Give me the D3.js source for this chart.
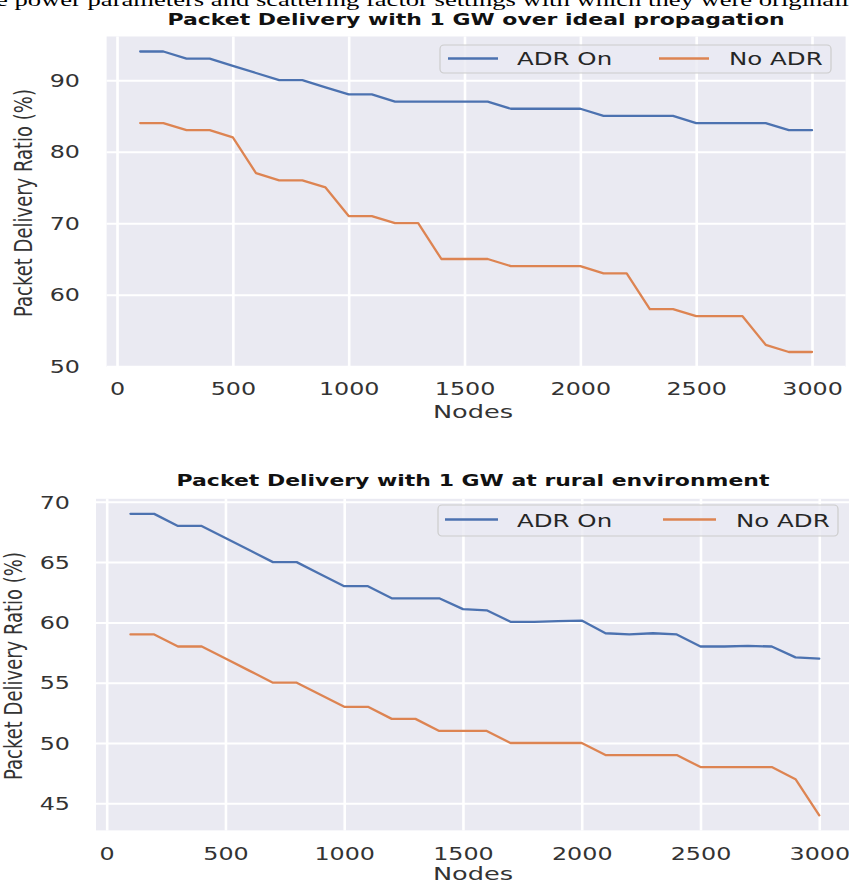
<!DOCTYPE html>
<html><head><meta charset="utf-8">
<script src="https://cdn.jsdelivr.net/npm/d3@7"></script>
<style>body{margin:0;background:#fff} svg{display:block}</style>
</head><body><svg id="c" width="849" height="883"></svg>
<script>
// ---------- data ----------
const nodes = [100,200,300,400,500,600,700,800,900,1000,1100,1200,1300,1400,1500,1600,1700,1800,1900,2000,2100,2200,2300,2400,2500,2600,2700,2800,2900,3000];
const idealAdrOn  = [94,94,93,93,92,91,90,90,89,88,88,87,87,87,87,87,86,86,86,86,85,85,85,85,84,84,84,84,83,83];
const idealNoAdr  = [84,84,83,83,82,77,76,76,75,71,71,70,70,65,65,65,64,64,64,64,63,63,58,58,57,57,57,53,52,52];
const ruralAdrOn  = [69,69,68,68,67,66,65,65,64,63,63,62,62,62,61.1,61,60.05,60.05,60.1,60.15,59.1,59.0,59.1,59.0,58.0,58.0,58.05,58.0,57.1,57.0];
const ruralNoAdr  = [59,59,58,58,57,56,55,55,54,53,53,52,52,51,51,51,50,50,50,50,49,49,49,49,48,48,48,48,47,44];
const xTicks = [0,500,1000,1500,2000,2500,3000];
const idealYTicks = [50,60,70,80,90];
const ruralYTicks = [45,50,55,60,65,70];
const seriesNames = ["ADR On","No ADR"];
const titles = ["Packet Delivery with 1 GW over ideal propagation","Packet Delivery with 1 GW at rural environment"];
const xLabel = "Nodes";
const yLabel = "Packet Delivery Ratio (%)";
const headerText = "e power parameters and scattering factor settings with which they were originally";

// ---------- style ----------
const colors = ["#4c72b0","#dd8452"];
const K = 1.4; // horizontal stretch of the source figure
const FONT = "DejaVu Sans";
const svg = d3.select("#c");

// header (body text of the page, partly above the crop)
svg.append("text").attr("transform",`translate(-4,5.5) scale(${K},1)`)
  .attr("font-family","Liberation Serif").attr("font-size",19).attr("fill","#000")
  .text(headerText);

function stretchedText(g, x, y, txt, opts){
  const t = g.append("text").attr("transform",`translate(${x},${y}) scale(${K},1)${opts.rotate?" rotate(-90)":""}`)
    .attr("font-family",FONT).attr("font-size",opts.size).attr("fill",opts.fill||"#262626")
    .attr("text-anchor",opts.anchor||"start").text(txt);
  if(opts.weight) t.attr("font-weight",opts.weight);
  return t;
}

function panel(cfg){
  const x = d3.scaleLinear().domain(cfg.xDomain).range(cfg.xRange);
  const y = d3.scaleLinear().domain(cfg.yDomain).range(cfg.yRange);
  const [x0,x1] = cfg.xRange, [yb,yt] = cfg.yRange;
  const g = svg.append("g");
  g.append("rect").attr("x",x0).attr("y",yt).attr("width",x1-x0).attr("height",yb-yt).attr("fill","#eaeaf2");

  // grid
  g.append("g").attr("transform",`translate(0,${yb})`)
    .call(d3.axisBottom(x).tickValues(xTicks).tickSize(-(yb-yt)).tickFormat(""))
    .call(a=>{a.select(".domain").remove(); a.selectAll("line").attr("stroke","#fff").attr("stroke-width",2.6);});
  g.append("g").attr("transform",`translate(${x0},0)`)
    .call(d3.axisLeft(y).tickValues(cfg.yTicks).tickSize(-(x1-x0)).tickFormat(""))
    .call(a=>{a.select(".domain").remove(); a.selectAll("line").attr("stroke","#fff").attr("stroke-width",2);});

  // series
  const line = d3.line().x((d,i)=>x(nodes[i])).y(d=>y(d));
  cfg.series.forEach((s,j)=>{
    g.append("path").datum(s).attr("d",line).attr("fill","none")
      .attr("stroke",colors[j]).attr("stroke-width",2.3).attr("stroke-linejoin","round").attr("stroke-linecap","round");
  });

  // x tick labels
  const xa = g.append("g").attr("transform",`translate(0,${yb})`)
    .call(d3.axisBottom(x).tickValues(xTicks).tickSize(0).tickFormat(d3.format("d")));
  xa.select(".domain").remove();
  xa.selectAll("text").attr("y",null).attr("dy",null)
    .attr("transform",`translate(0,${cfg.xTickBase-yb}) scale(${K},1)`)
    .attr("font-family",FONT).attr("font-size",17).attr("fill","#333");

  // y tick labels
  const ya = g.append("g").attr("transform",`translate(${x0},0)`)
    .call(d3.axisLeft(y).tickValues(cfg.yTicks).tickSize(0).tickFormat(d3.format("d")));
  ya.select(".domain").remove();
  ya.selectAll("text").attr("x",null).attr("dy",null)
    .attr("transform",`translate(${cfg.yTickRight-x0},6.2) scale(${K},1)`)
    .attr("text-anchor","end")
    .attr("font-family",FONT).attr("font-size",17).attr("fill","#333");

  // labels and title
  stretchedText(g, cfg.titleX, cfg.titleBase, cfg.title, {size:15.7, weight:"bold", anchor:"middle", fill:"#111"});
  stretchedText(g, cfg.xLabelX, cfg.xLabelBase, xLabel, {size:18.3, anchor:"middle", fill:"#333"});
  stretchedText(g, cfg.yLabelBase, cfg.yLabelY, yLabel, {size:18, anchor:"middle", rotate:true, fill:"#333"});

  // legend
  const L = cfg.legend;
  const lg = g.append("g");
  lg.append("rect").attr("x",L.x0).attr("y",L.y0).attr("width",L.x1-L.x0).attr("height",L.y1-L.y0)
    .attr("rx",4).attr("fill","#eaeaf2").attr("fill-opacity",0.8).attr("stroke","#cccccc").attr("stroke-width",1.2);
  seriesNames.forEach((name,j)=>{
    lg.append("line").attr("x1",L.lines[j][0]).attr("x2",L.lines[j][1]).attr("y1",L.lineY).attr("y2",L.lineY)
      .attr("stroke",colors[j]).attr("stroke-width",2.3);
    stretchedText(lg, L.texts[j], L.textBase, name, {size:17.5, fill:"#262626"});
  });
}

panel({
  title: titles[0], series:[idealAdrOn, idealNoAdr], yTicks: idealYTicks,
  xDomain:[-45,3145], xRange:[106.6,845.6], yDomain:[49.9,96.1], yRange:[367,36.5],
  xTickBase:395.2, yTickRight:80, titleX:476, titleBase:24.5,
  xLabelX:473, xLabelBase:417.7, yLabelBase:32, yLabelY:203,
  legend:{x0:440,x1:831,y0:45,y1:73,lineY:58.5,lines:[[448,498],[659,709]],texts:[517,729],textBase:65}
});
panel({
  title: titles[1], series:[ruralAdrOn, ruralNoAdr], yTicks: ruralYTicks,
  xDomain:[-45,3145], xRange:[96,853.7], yDomain:[42.75,70.25], yRange:[830.4,498.8],
  xTickBase:859.5, yTickRight:70, titleX:473, titleBase:486,
  xLabelX:473, xLabelBase:880, yLabelBase:22, yLabelY:666,
  legend:{x0:438,x1:838,y0:505,y1:536,lineY:519.5,lines:[[445,498],[663,716]],texts:[517,736],textBase:526.5}
});
</script></body></html>
